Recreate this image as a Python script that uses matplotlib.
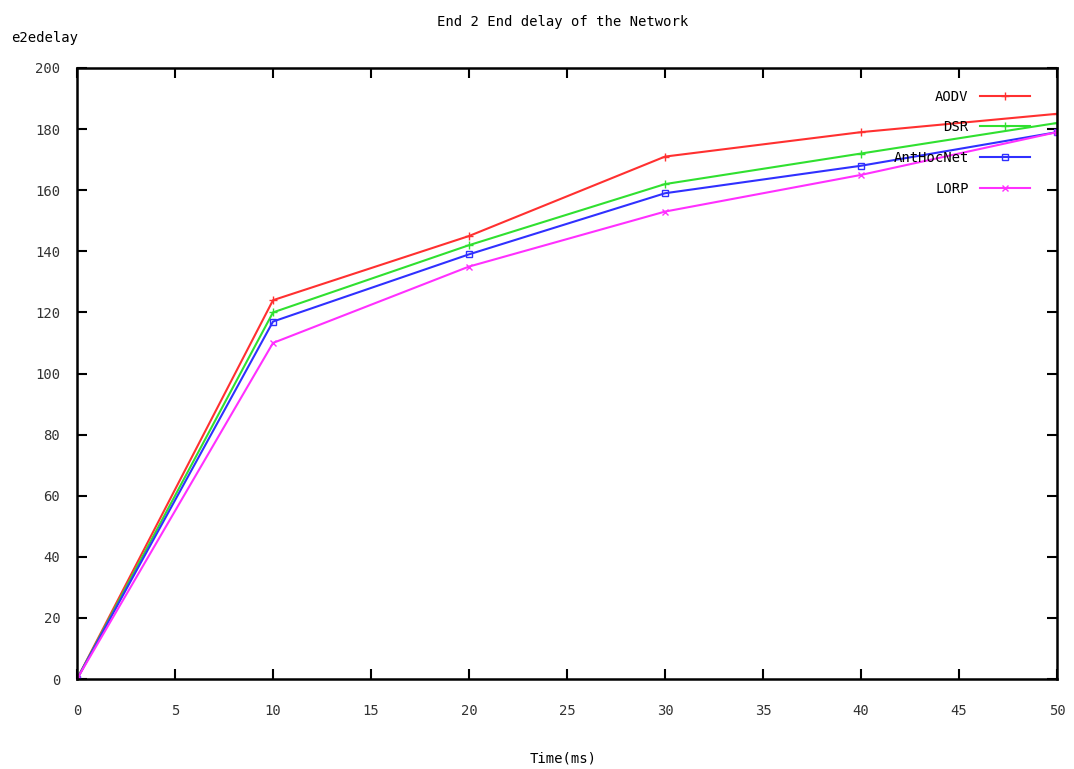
import numpy as np
import matplotlib.pyplot as plt

plt.rcParams['font.family'] = ['DejaVu Sans Mono']

# data
time_ms = [0, 10, 20, 30, 40, 50]
aodv = [0, 124, 145, 171, 179, 185]
dsr = [0, 120, 142, 162, 172, 182]
anthocnet = [0, 117, 139, 159, 168, 179]
lorp = [0, 110, 135, 153, 165, 179]

fig = plt.figure(figsize=(10.74, 7.69), dpi=100)
ax = fig.add_axes([0.0717, 0.117, 0.9125, 0.7946])

ax.plot(time_ms, aodv, color='#ff3030', marker='+', ms=6, lw=1.5, label='AODV')
ax.plot(time_ms, dsr, color='#30e030', marker='+', ms=6, lw=1.5, label='DSR')
ax.plot(time_ms, anthocnet, color='#3030ff', marker='s', ms=5, mfc='none', lw=1.5, label='AntHocNet')
ax.plot(time_ms, lorp, color='#ff30ff', marker='x', ms=5, lw=1.5, label='LORP')

ax.set_xlim(0, 50)
ax.set_ylim(0, 200)
ax.set_xticks(np.arange(0, 51, 5))
ax.set_yticks(np.arange(0, 201, 20))
ax.tick_params(direction='in', length=7, width=1.5, top=True, right=True,
               labelsize=10, labelcolor='#333333')
ax.tick_params(axis='x', pad=18)
ax.tick_params(axis='y', pad=12)
for s in ax.spines.values():
    s.set_linewidth(1.8)

fig.text(0.524, 0.972, 'End 2 End delay of the Network', ha='center', va='center', fontsize=10)
fig.text(0.01, 0.951, 'e2edelay', ha='left', va='center', fontsize=10)
fig.text(0.524, 0.014, 'Time(ms)', ha='center', va='center', fontsize=10)

ax.legend(loc='upper right', frameon=False, markerfirst=False, fontsize=10,
          handlelength=3.6, labelspacing=1.2, bbox_to_anchor=(0.985, 0.985))

fig.savefig('out.png', dpi=100)
